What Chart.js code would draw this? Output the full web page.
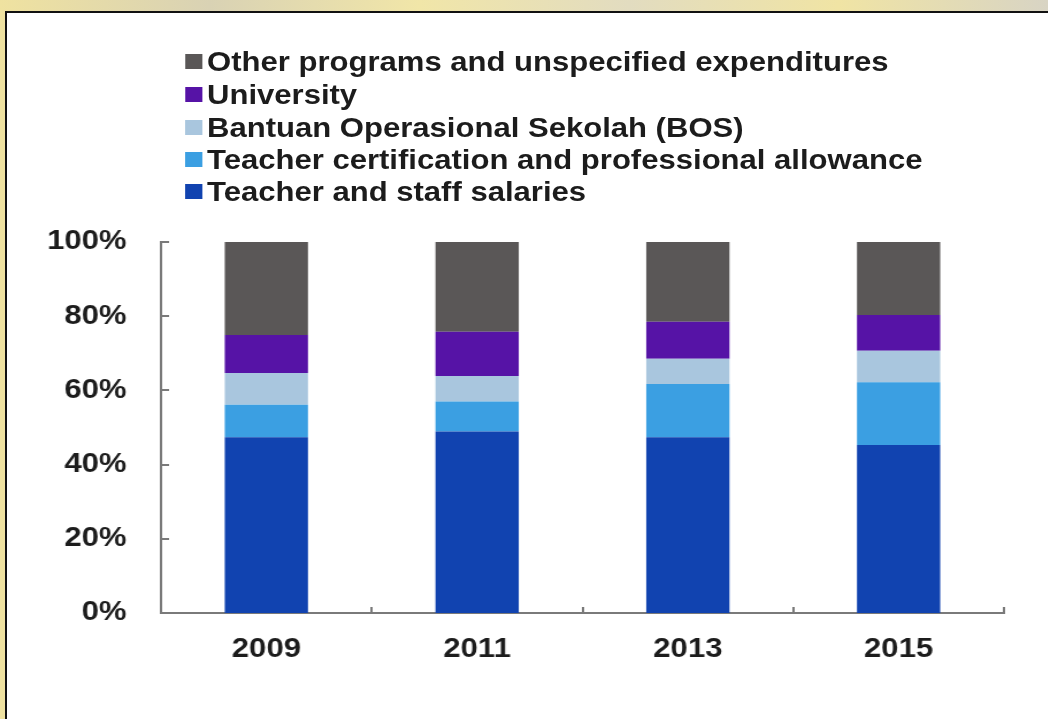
<!DOCTYPE html>
<html>
<head>
<meta charset="utf-8">
<script src="https://cdn.jsdelivr.net/npm/chart.js@4/dist/chart.umd.min.js"></script>
<style>
  html, body { margin: 0; padding: 0; }
  body { width: 1048px; height: 719px; overflow: hidden; position: relative;
         background: linear-gradient(90deg, #efe2a0 0%, #d9d2b4 20%, #f1e6a8 40%, #e2dcc0 60%, #f0e4a4 80%, #d8d4c4 100%); }
  #box { position: absolute; left: 5px; top: 11px; width: 1050px; height: 720px;
         background: #ffffff; border-top: 2px solid #111; border-left: 2px solid #111; }
  #wrap { position: absolute; left: 0; top: 0; width: 911px; height: 719px;
          transform: scaleX(1.15); transform-origin: 0 0; }
  #legend { position: absolute; left: 161px; top: 0; margin: 0; padding: 0; list-style: none;
            font-family: "Liberation Sans", Arial, sans-serif; font-weight: bold; font-size: 27px; color: #1c1c1c; }
  #legend li { position: absolute; left: 0; white-space: nowrap; height: 30px; line-height: 30px; }
  #legend .sw { display: inline-block; width: 15px; height: 15px; vertical-align: middle;
                margin-right: 4px; position: relative; top: -2px; }
</style>
</head>
<body>
<div id="box"></div>
<div id="wrap">
  <canvas id="c" width="911" height="719"></canvas>
  <ul id="legend"></ul>
</div>
<script>
const years = ["2009", "2011", "2013", "2015"];
const seriesNames = [
  "Teacher and staff salaries",
  "Teacher certification and professional allowance",
  "Bantuan Operasional Sekolah (BOS)",
  "University",
  "Other programs and unspecified expenditures"
];
const salaries      = [47.4, 48.9, 47.4, 45.3];
const certification = [8.7, 8.1, 14.3, 16.9];
const bos           = [8.6, 6.9, 6.8, 8.5];
const university    = [10.2, 11.9, 10.0, 9.6];
const other         = [25.1, 24.2, 21.5, 19.7];
const yTicks = [0, 20, 40, 60, 80, 100];
const colors = ["#1143b0", "#3b9fe2", "#a9c6de", "#5613a6", "#5a5757"];

const seriesValues = [salaries, certification, bos, university, other];

const inwardTicks = {
  id: 'inwardTicks',
  afterDraw(chart) {
    const ctx = chart.ctx;
    const x = chart.scales.x, y = chart.scales.y;
    const area = chart.chartArea;
    ctx.save();
    ctx.strokeStyle = '#7a7a7a';
    ctx.lineWidth = 2;
    ctx.beginPath();
    y.ticks.forEach((t, i) => {
      const py = Math.round(y.getPixelForTick(i));
      ctx.moveTo(area.left, py);
      ctx.lineTo(area.left + 7, py);
    });
    for (let i = 0; i < years.length; i++) {
      let px;
      if (i < years.length - 1) {
        px = (x.getPixelForValue(i) + x.getPixelForValue(i + 1)) / 2;
      } else {
        px = area.right;
      }
      px = Math.round(px);
      ctx.moveTo(px, area.bottom);
      ctx.lineTo(px, area.bottom - 6);
    }
    ctx.stroke();
    ctx.restore();
  }
};

const chart = new Chart(document.getElementById('c'), {
  type: 'bar',
  data: {
    labels: years,
    datasets: seriesNames.map((n, i) => ({
      label: n,
      data: seriesValues[i],
      backgroundColor: colors[i],
      borderWidth: 0,
      barPercentage: 0.395,
      categoryPercentage: 1.0
    }))
  },
  options: {
    responsive: false,
    animation: false,
    devicePixelRatio: 1,
    layout: { padding: { left: 0, right: 38, top: 242, bottom: 0 } },
    plugins: { legend: { display: false }, tooltip: { enabled: false } },
    scales: {
      x: {
        stacked: true,
        grid: { display: false, drawTicks: false },
        border: { display: true, color: '#7a7a7a', width: 2 },
        ticks: { color: '#1c1c1c', padding: 20,
                 font: { family: "'Liberation Sans', Arial, sans-serif", size: 27, weight: 'bold' } },
        afterFit(s) { s.height = 106; }
      },
      y: {
        stacked: true,
        min: 0, max: 100,
        afterBuildTicks(s) { s.ticks = yTicks.map(v => ({ value: v })); },
        grid: { display: false, drawTicks: false },
        border: { display: true, color: '#7a7a7a', width: 2 },
        ticks: { color: '#1c1c1c', padding: 30, callback: v => v + '%',
                 font: { family: "'Liberation Sans', Arial, sans-serif", size: 27, weight: 'bold' } },
        afterFit(s) { s.width = 140; }
      }
    }
  },
  plugins: [inwardTicks]
});

// HTML legend built from the chart's datasets (top item = top of stack)
const legendRowsY = [62, 95, 128, 160, 192];
const ul = document.getElementById('legend');
chart.data.datasets.slice().reverse().forEach((ds, i) => {
  const li = document.createElement('li');
  li.style.top = (legendRowsY[i] - 15) + 'px';
  const sw = document.createElement('span');
  sw.className = 'sw';
  sw.style.background = ds.backgroundColor;
  li.appendChild(sw);
  li.appendChild(document.createTextNode(ds.label));
  ul.appendChild(li);
});
</script>
</body>
</html>
